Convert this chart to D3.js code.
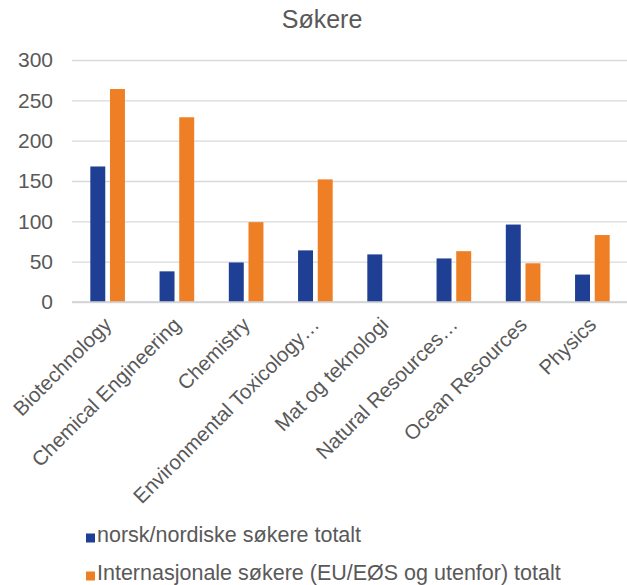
<!DOCTYPE html>
<html>
<head>
<meta charset="utf-8">
<script src="https://cdn.jsdelivr.net/npm/d3@7/dist/d3.min.js"></script>
<style>
  html, body { margin: 0; padding: 0; background: #fff; }
  svg { display: block; font-family: "Liberation Sans", Arial, sans-serif; }
</style>
</head>
<body>
<svg id="chart" width="627" height="585"></svg>
<script>
const title = "Søkere";
const categories = ["Biotechnology", "Chemical Engineering", "Chemistry", "Environmental Toxicology…",
  "Mat og teknologi", "Natural Resources…", "Ocean Resources", "Physics"];
const seriesNames = ["norsk/nordiske søkere totalt", "Internasjonale søkere (EU/EØS og utenfor) totalt"];
const norsk = [168, 38, 49, 64, 59, 54, 96, 34];
const internasjonale = [264, 229, 99, 152, 0, 63, 48, 83];
const yTicks = [0, 50, 100, 150, 200, 250, 300];
const colors = ["#1f3f94", "#ee7f24"];

const svg = d3.select("#chart");
const textColor = "#595959";

const x0 = d3.scaleBand().domain(categories).range([73, 627]).paddingInner(0).paddingOuter(0);
const bw = x0.bandwidth();
const x1 = d3.scaleBand().domain([0, 1]).range([bw * 0.25, bw * 0.75]).paddingInner(0.24).paddingOuter(0);
const y = d3.scaleLinear().domain([0, 300]).range([302, 60]);

// title
svg.append("text").attr("x", 322).attr("y", 28).attr("text-anchor", "middle")
  .attr("font-size", 25).attr("fill", textColor).text(title);

// gridlines + y labels
const yAxis = d3.axisLeft(y).tickValues(yTicks).tickSize(-(627 - 72)).tickPadding(19);
const gy = svg.append("g").attr("transform", "translate(72,0)").call(yAxis);
gy.select(".domain").remove();
gy.selectAll(".tick line").attr("stroke", "#d9d9d9").attr("stroke-width", 1.3);
gy.selectAll(".tick text").attr("font-size", 21).attr("fill", textColor)
  .attr("font-family", "'Liberation Sans', Arial, sans-serif");

// bars
const data = categories.map((c, i) => ({ c, vals: [norsk[i], internasjonale[i]] }));
const groups = svg.append("g").selectAll("g").data(data).join("g")
  .attr("transform", d => `translate(${x0(d.c)},0)`);
groups.selectAll("rect").data(d => d.vals.map((v, k) => ({ v, k }))).join("rect")
  .filter(d => d.v > 0)
  .attr("x", d => x1(d.k)).attr("width", x1.bandwidth())
  .attr("y", d => y(d.v)).attr("height", d => y(0) - y(d.v))
  .attr("fill", d => colors[d.k]);

// baseline
svg.append("line").attr("x1", 72).attr("x2", 627).attr("y1", y(0)).attr("y2", y(0))
  .attr("stroke", "#d0d0d0").attr("stroke-width", 1.3);

// x labels
const xAxis = d3.axisBottom(x0).tickSize(0).tickPadding(0);
const gx = svg.append("g").attr("transform", "translate(0,321)").call(xAxis);
gx.select(".domain").remove();
gx.selectAll(".tick text")
  .attr("font-size", 20.5).attr("fill", textColor)
  .attr("font-family", "'Liberation Sans', Arial, sans-serif")
  .attr("text-anchor", "end").attr("dy", "0.35em").attr("y", 0).attr("x", 0)
  .attr("transform", "rotate(-45)");

// legend
const legend = svg.append("g");
seriesNames.forEach((name, i) => {
  const ly = 542 + i * 38;
  legend.append("rect").attr("x", 86).attr("y", ly - 8.5).attr("width", 9).attr("height", 9).attr("fill", colors[i]);
  legend.append("text").attr("x", 97).attr("y", ly).attr("font-size", 21.5).attr("fill", textColor).text(name);
});
</script>
</body>
</html>
